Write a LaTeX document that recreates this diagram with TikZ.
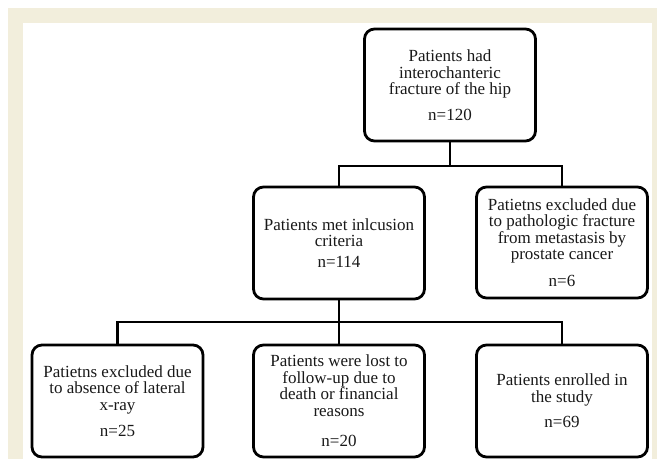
\documentclass[tikz,border=0pt]{standalone}
\usepackage{fontspec}
\setmainfont{Liberation Serif}
\definecolor{beige}{RGB}{242,238,220}
\definecolor{ink}{RGB}{25,25,25}
\begin{document}
\begin{tikzpicture}[x=1pt,y=-1pt,
  flowbox/.style={draw=black, line width=2.8pt, rounded corners=10pt,
    minimum width=171pt, minimum height=112pt, align=center, inner sep=0pt,
    text=ink, font=\fontsize{17}{16.5}\selectfont},
  link/.style={line width=2.8pt, draw=black}]
\useasboundingbox (0,0) rectangle (657,459);
\fill[white] (0,0) rectangle (657,459);
\fill[beige] (8,8) rectangle (657,459);
\fill[white] (23,23) rectangle (652,459);

\node[flowbox] (top) at (450,85) {Patients had\\interochanteric\\fracture of the hip\\[9pt]n=120};
\node[flowbox] (mid) at (339,243) {Patients met inlcusion\\criteria\\[4pt]n=114};
\node[flowbox, minimum height=111pt] (excl) at (562,242.5) {Patietns excluded due\\to pathologic fracture\\from metastasis by\\prostate cancer\\[10pt]n=6};
\node[flowbox] (bl) at (117.5,401) {Patietns excluded due\\to absence of lateral\\x-ray\\[10pt]n=25};
\node[flowbox] (bm) at (339,401) {Patients were lost to\\follow-up due to\\death or financial\\reasons\\[14pt]n=20};
\node[flowbox] (br) at (562,401) {Patients enrolled in\\the study\\[9pt]n=69};

\coordinate (j1) at (450,166);
\coordinate (j2) at (339,322);
\draw[link] (top.south) -- (j1);
\draw[link] (mid.north) |- (j1) -| (excl.north);
\draw[link] (mid.south) -- (j2);
\draw[link] (bl.north) |- (j2) -| (br.north);
\draw[link] (j2) -- (bm.north);
\end{tikzpicture}
\end{document}
